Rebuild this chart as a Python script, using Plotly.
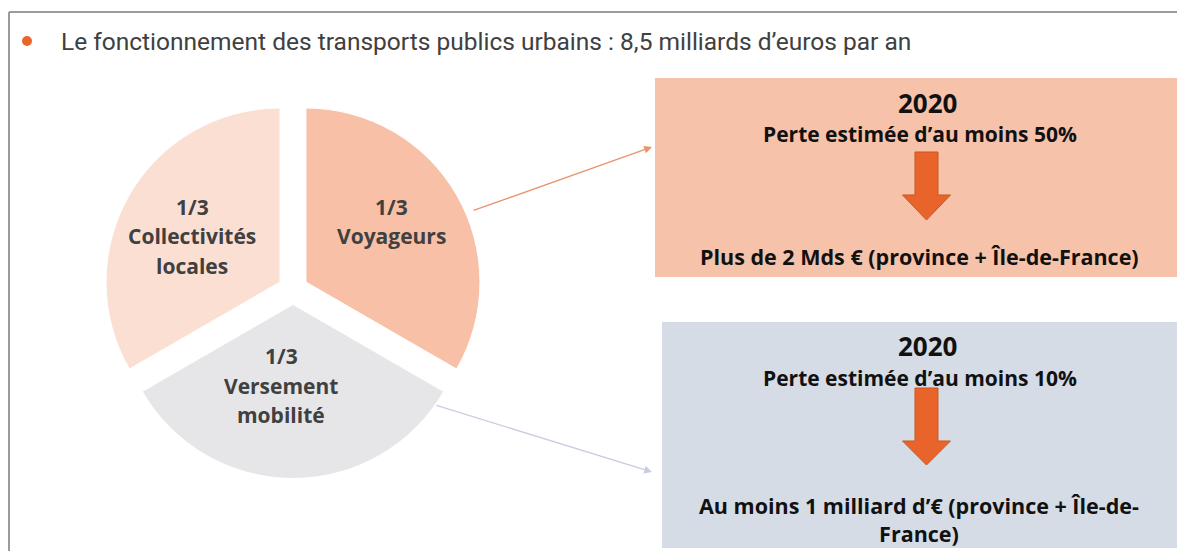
import plotly.graph_objects as go

W, H = 1177, 551

# ---- data ----
title_text = "Le fonctionnement des transports publics urbains : 8,5 milliards d’euros par an"
slice_labels = ["Voyageurs", "Versement mobilité", "Collectivités locales"]
slice_values = [1, 1, 1]
slice_shares = ["1/3", "1/3", "1/3"]
slice_label_lines = [["Voyageurs"], ["Versement", "mobilité"], ["Collectivités", "locales"]]
slice_colors = ["#F7C0A7", "#E6E6E8", "#FBDFD3"]

box_years = ["2020", "2020"]
box_losses = ["Perte estimée d’au moins 50%", "Perte estimée d’au moins 10%"]
box_amounts = [["Plus de 2 Mds € (province + Île-de-France)"],
               ["Au moins 1 milliard d’€ (province + Île-de-", "France)"]]
box_colors = ["#F7C2AA", "#D6DCE5"]


def px(x):
    return x / W


def py(y):
    return 1 - y / H


fig = go.Figure()

# ---- pie ----
cx, cy, R, pull = 293, 289.5, 174, 0.086
half = R * (1 + pull)
fig.add_trace(go.Pie(
    labels=slice_labels, values=slice_values, sort=False,
    direction="clockwise", rotation=0, pull=[pull] * 3,
    marker=dict(colors=slice_colors, line=dict(color="white", width=1)),
    textinfo="none", hoverinfo="label+percent", showlegend=False,
    domain=dict(x=[px(cx - half), px(cx + half)], y=[py(cy + half), py(cy - half)]),
))

annotations = []
shapes = []

# pie labels
label_pos = [(391, 207), (281, 356), (192, 207)]
for (lx, ly), share, lines in zip(label_pos, slice_shares, slice_label_lines):
    for i, t in enumerate([share] + lines):
        annotations.append(dict(
            x=px(lx), y=py(ly + i * 29.5), xref="paper", yref="paper",
            text=t, showarrow=False, xanchor="center", yanchor="middle",
            font=dict(family="Open Sans", size=21, color="#404040", weight="bold"),
        ))

# frame
shapes.append(dict(type="line", xref="paper", yref="paper", x0=px(9), x1=1, y0=py(12), y1=py(12),
                   line=dict(color="#9b9b9b", width=2)))
shapes.append(dict(type="line", xref="paper", yref="paper", x0=px(9), x1=px(9), y0=py(12), y1=0,
                   line=dict(color="#9b9b9b", width=2)))

# bullet + title
shapes.append(dict(type="circle", xref="paper", yref="paper", x0=px(22), x1=px(32), y0=py(46), y1=py(36),
                   fillcolor="#E8662C", line=dict(width=0)))
annotations.append(dict(x=px(59), y=py(41), xref="paper", yref="paper", text=title_text,
                        showarrow=False, xanchor="left", yanchor="middle",
                        font=dict(family="Roboto", size=24.5, color="#404040")))

# boxes
box_rects = [(655, 78, W, 277), (662, 322, W, 548)]
year_y = [103, 346]
loss_y = [134, 378]
amount_y = [256, 519]
arrow_geo = [(152, 195, 220), (388, 441, 465)]
for k in range(2):
    x0, y0, x1, y1 = box_rects[k]
    shapes.append(dict(type="rect", xref="paper", yref="paper", layer="below",
                       x0=px(x0), x1=px(x1), y0=py(y1), y1=py(y0),
                       fillcolor=box_colors[k], line=dict(width=0)))
    annotations.append(dict(x=px(927), y=py(year_y[k]), xref="paper", yref="paper", text=box_years[k],
                            showarrow=False, xanchor="center", yanchor="middle",
                            font=dict(family="Open Sans", size=26, color="#111111", weight="bold")))
    annotations.append(dict(x=px(920), y=py(loss_y[k]), xref="paper", yref="paper", text=box_losses[k],
                            showarrow=False, xanchor="center", yanchor="middle",
                            font=dict(family="Open Sans", size=21, color="#111111", weight="bold")))
    annotations.append(dict(x=px(919), y=py(amount_y[k]), xref="paper", yref="paper",
                            text="<br>".join(box_amounts[k]),
                            showarrow=False, xanchor="center", yanchor="middle", align="center",
                            font=dict(family="Open Sans", size=21.5, color="#111111", weight="bold")))
    top, head, tip = arrow_geo[k]
    ax = 926.5
    pts = [(ax - 11.5, top), (ax + 11.5, top), (ax + 11.5, head), (ax + 24, head), (ax, tip),
           (ax - 24, head), (ax - 11.5, head)]
    path = "M " + " L ".join(f"{px(a):.5f},{py(b):.5f}" for a, b in pts) + " Z"
    shapes.append(dict(type="path", xref="paper", yref="paper", path=path,
                       fillcolor="#E9642B", line=dict(color="#C9581F", width=1)))

# connectors
annotations.append(dict(x=px(652), y=py(147), xref="paper", yref="paper", text="",
                        showarrow=True, ax=-180, ay=64, arrowhead=2, arrowsize=1.2, arrowwidth=1.3,
                        arrowcolor="#E9946C", standoff=0))
annotations.append(dict(x=px(652), y=py(472), xref="paper", yref="paper", text="",
                        showarrow=True, ax=-217, ay=-67, arrowhead=2, arrowsize=1.2, arrowwidth=1.3,
                        arrowcolor="#C8CCE2", standoff=0))

fig.update_layout(
    width=W, height=H, margin=dict(l=0, r=0, t=0, b=0),
    paper_bgcolor="white", plot_bgcolor="white",
    shapes=shapes, annotations=annotations, showlegend=False,
)

fig.write_html(
    "out.html",
    config={"displayModeBar": False},
    post_script="document.body.style.margin='0';document.body.style.overflow='hidden';",
)
